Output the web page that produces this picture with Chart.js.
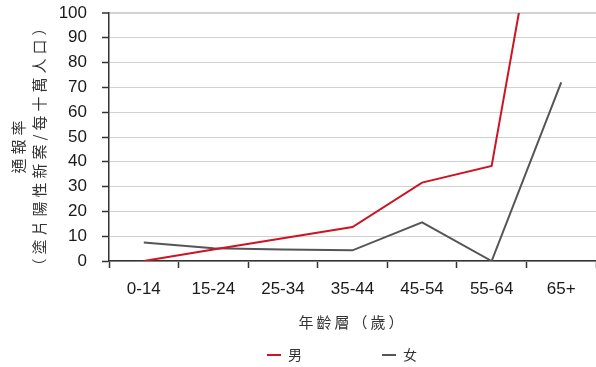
<!DOCTYPE html>
<html>
<head>
<meta charset="utf-8">
<script src="https://cdn.jsdelivr.net/npm/chart.js@4/dist/chart.umd.min.js"></script>
<style>
html,body{margin:0;padding:0;background:#fff;}
#wrap{width:596px;height:367px;}
</style>
</head>
<body>
<div id="wrap"><canvas id="c" width="596" height="367"></canvas></div>
<script>
// ---- data ----
const ageGroups = ['0-14', '15-24', '25-34', '35-44', '45-54', '55-64', '65+'];
const maleRates = [0, 4.6, 9.2, 13.7, 31.6, 38.3, 196];
const femaleRates = [7.5, 5.1, 4.6, 4.3, 15.6, 0, 72];
const yTicks = [0, 10, 20, 30, 40, 50, 60, 70, 80, 90, 100];
const seriesNames = ['男', '女'];
const yTitle = ['通報率', '（塗片陽性新案/每十萬人口）'];
const xTitle = '年齡層（歲）';

// ---- styling ----
const seriesColors = ['#cc1424', '#555555'];
const axisColor = '#333333';
const cjkFont = "'Noto Sans CJK TC', 'Noto Sans CJK SC', sans-serif";
const latinFont = "'Liberation Sans', Arial, sans-serif";

const titleTweaks = {
  x: { spacing: '3px', dx: 0, dy: 0 },
  y: { spacing: '4px', dx: 0, dy: 8 }
};

const titleSpacingPlugin = {
  id: 'titleSpacing',
  beforeDraw(chart) {
    ['x', 'y'].forEach(id => {
      const s = chart.scales[id];
      if (s && !s.__wrapped) {
        const orig = s.drawTitle;
        const t = titleTweaks[id];
        s.drawTitle = function (...args) {
          const c = this.ctx;
          c.save();
          c.letterSpacing = t.spacing;
          c.translate(t.dx, t.dy);
          orig.apply(this, args);
          c.restore();
        };
        s.__wrapped = true;
      }
    });
  }
};

const legendLayout = { y: 355, starts: [267, 382], lineLen: 14, gap: 7, fontSize: 14 };
const customLegendPlugin = {
  id: 'customLegend',
  afterDraw(chart) {
    const c = chart.ctx;
    c.save();
    chart.data.datasets.forEach((ds, i) => {
      const x0 = legendLayout.starts[i];
      const y = legendLayout.y;
      c.strokeStyle = ds.borderColor;
      c.lineWidth = 2;
      c.beginPath();
      c.moveTo(x0, y);
      c.lineTo(x0 + legendLayout.lineLen, y);
      c.stroke();
      c.fillStyle = '#333';
      c.font = legendLayout.fontSize + 'px ' + cjkFont;
      c.textAlign = 'left';
      c.textBaseline = 'middle';
      c.fillText(ds.label, x0 + legendLayout.lineLen + legendLayout.gap, y);
    });
    c.restore();
  }
};

const ctx = document.getElementById('c').getContext('2d');
new Chart(ctx, {
  type: 'line',
  data: {
    labels: ageGroups,
    datasets: [
      { label: seriesNames[0], data: maleRates, borderColor: seriesColors[0], backgroundColor: seriesColors[0],
        borderWidth: 2, pointRadius: 0, tension: 0, fill: false },
      { label: seriesNames[1], data: femaleRates, borderColor: seriesColors[1], backgroundColor: seriesColors[1],
        borderWidth: 2, pointRadius: 0, tension: 0, fill: false }
    ]
  },
  options: {
    responsive: false,
    animation: false,
    devicePixelRatio: 1,
    layout: { padding: { top: 0, right: 0, left: 0, bottom: 30 } },
    plugins: {
      legend: { display: false },
      tooltip: { enabled: false }
    },
    scales: {
      x: {
        offset: true,
        grid: { offset: true, drawOnChartArea: false, drawTicks: true, tickLength: 7, tickColor: axisColor, tickWidth: 1.5 },
        border: { display: true, color: axisColor, width: 1.5 },
        ticks: { font: { family: latinFont, size: 17 }, color: '#1a1a1a', padding: 11, maxRotation: 0, autoSkip: false },
        title: { display: true, text: xTitle, font: { family: cjkFont, size: 15 }, color: '#333', padding: { top: 0, bottom: 6 } },
        afterFit(s) { s.height = 76; }
      },
      y: {
        min: 0,
        max: 100,
        afterBuildTicks(s) { s.ticks = yTicks.map(v => ({ value: v })); },
        grid: {
          color: '#d2d2d2',
          lineWidth: (c) => (c.tick && c.tick.value === 100 ? 2 : 1),
          tickLength: 7, tickColor: axisColor, tickWidth: 1.5
        },
        border: { display: true, color: axisColor, width: 1.5 },
        ticks: { font: { family: latinFont, size: 17 }, color: '#1a1a1a', padding: 15 },
        title: { display: true, text: yTitle, font: { family: cjkFont, size: 15, lineHeight: 1.45 }, color: '#333', padding: { top: 7, bottom: 0 } },
        afterFit(s) { s.width = 109; s.paddingTop = 13; s.paddingBottom = 0; }
      }
    }
  },
  plugins: [titleSpacingPlugin, customLegendPlugin]
});
</script>
</body>
</html>
